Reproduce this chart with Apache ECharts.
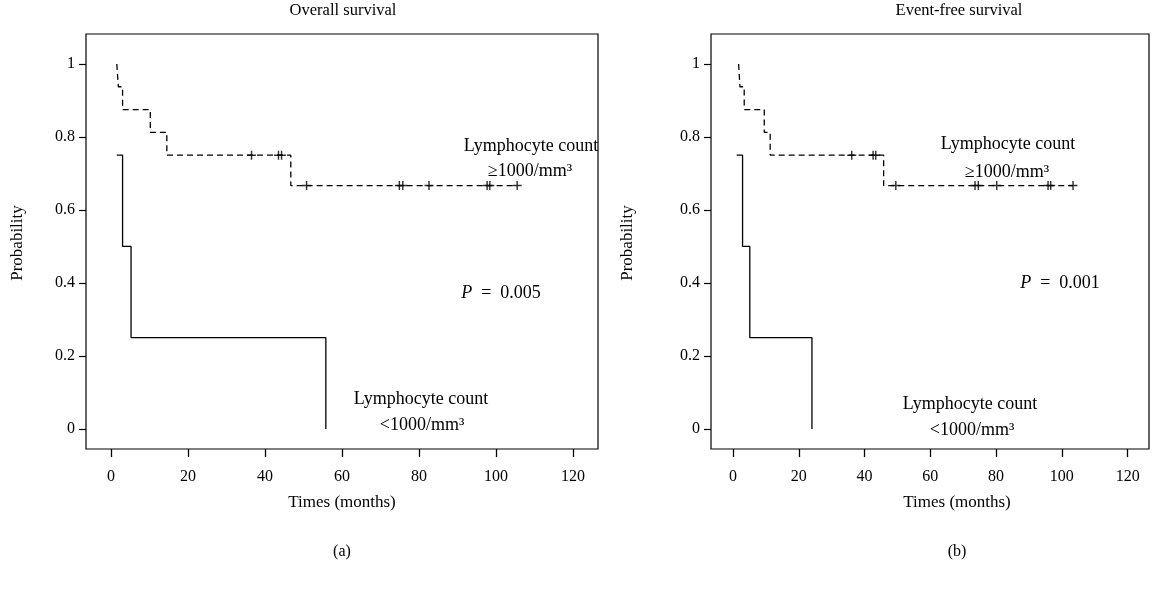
<!DOCTYPE html>
<html><head><meta charset="utf-8">
<script src="https://cdn.jsdelivr.net/npm/echarts@6/dist/echarts.min.js"></script>
<style>html,body{margin:0;padding:0;background:#fff}#c{width:1152px;height:596px}</style>
</head><body><div id="c"></div>
<script>
// ---- data (months, survival probability) ----
const xTickValues = [0, 20, 40, 60, 80, 100, 120];
const yTickValues = [0, 0.2, 0.4, 0.6, 0.8, 1];
const panelTitles = ['Overall survival', 'Event-free survival'];
const panelTags = ['(a)', '(b)'];
const xAxisTitle = 'Times (months)';
const yAxisTitle = 'Probability';
const pValues = ['0.005', '0.001'];

// Overall survival
const osHighTimes = [1.5, 1.9, 3.0, 10.2, 14.5, 46.7, 105.5];
const osHighSurv  = [1, 0.9375, 0.875, 0.8125, 0.75, 0.6667, 0.6667];
const osHighCensorTimes = [36.5, 43.5, 44.3, 50.8, 74.9, 75.8, 82.6, 97.7, 98.4, 105.5];
const osHighCensorSurv  = [0.75, 0.75, 0.75, 0.6667, 0.6667, 0.6667, 0.6667, 0.6667, 0.6667, 0.6667];
const osLowTimes = [1.5, 3.0, 5.2, 55.8];
const osLowSurv  = [0.75, 0.5, 0.25, 0];

// Event-free survival
const efsHighTimes = [1.7, 2.1, 3.4, 9.5, 11.3, 45.8, 103.4];
const efsHighSurv  = [1, 0.9375, 0.875, 0.8125, 0.75, 0.6667, 0.6667];
const efsHighCensorTimes = [36.1, 42.6, 43.4, 49.5, 73.6, 74.6, 80.2, 95.8, 96.6, 103.4];
const efsHighCensorSurv  = [0.75, 0.75, 0.75, 0.6667, 0.6667, 0.6667, 0.6667, 0.6667, 0.6667, 0.6667];
const efsLowTimes = [1.1, 2.9, 5.1, 24.0];
const efsLowSurv  = [0.75, 0.5, 0.25, 0];

const zip = (a, b) => a.map((v, i) => [v, b[i]]);
const FONT = '"Liberation Serif", "DejaVu Serif", serif';
const PLUS = 'path://M4.2,0H5.8V4.2H10V5.8H5.8V10H4.2V5.8H0V4.2H4.2Z';

// plot boxes and the value range each box spans (box extends past the ticks)
const boxes = [
  {left: 86, top: 34, width: 512, height: 415},
  {left: 711, top: 34, width: 438, height: 415}
];
const xRanges = [[-6.5, 126.5], [-6.7, 126.5]];
const yRange = [-0.055, 1.082];

const grids = [], xAxes = [], yAxes = [];
boxes.forEach((b, k) => {
  grids.push(Object.assign({show: true, borderColor: '#000', borderWidth: 1.2, backgroundColor: 'transparent'}, b));
  xAxes.push({
    gridIndex: k, type: 'value', min: xRanges[k][0], max: xRanges[k][1],
    axisLine: {show: false, onZero: false},
    axisTick: {show: true, inside: false, length: 8, customValues: xTickValues, lineStyle: {color: '#000', width: 1.3}},
    axisLabel: {margin: 20, color: '#000', fontFamily: FONT, fontSize: 16, customValues: xTickValues},
    splitLine: {show: false}
  });
  yAxes.push({
    gridIndex: k, type: 'value', min: yRange[0], max: yRange[1],
    axisLine: {show: false, onZero: false},
    axisTick: {show: true, inside: false, length: 7, customValues: yTickValues, lineStyle: {color: '#000', width: 1.2}},
    axisLabel: {margin: 11, color: '#000', fontFamily: FONT, fontSize: 16, customValues: yTickValues},
    splitLine: {show: false}
  });
});

function km(name, idx, times, surv, dashed) {
  return {
    name, type: 'line', xAxisIndex: idx, yAxisIndex: idx, step: 'end',
    data: zip(times, surv), showSymbol: false, symbol: 'none',
    lineStyle: {color: '#000', width: 1.3, type: dashed ? [6, 4] : 'solid'},
    silent: true
  };
}
function censor(name, idx, times, surv) {
  return {
    name, type: 'scatter', xAxisIndex: idx, yAxisIndex: idx,
    data: zip(times, surv), symbol: PLUS, symbolSize: 9,
    itemStyle: {color: '#000'}, silent: true
  };
}

const series = [
  km('OS ≥1000', 0, osHighTimes, osHighSurv, true),
  censor('OS ≥1000 censored', 0, osHighCensorTimes, osHighCensorSurv),
  km('OS <1000', 0, osLowTimes, osLowSurv, false),
  km('EFS ≥1000', 1, efsHighTimes, efsHighSurv, true),
  censor('EFS ≥1000 censored', 1, efsHighCensorTimes, efsHighCensorSurv),
  km('EFS <1000', 1, efsLowTimes, efsLowSurv, false)
];

function txt(text, x, y, size, extra, rot) {
  return {
    type: 'text', x, y, rotation: rot || 0, silent: true,
    style: Object.assign({text, fill: '#000', font: size + 'px ' + FONT, align: 'center', verticalAlign: 'middle'}, extra || {})
  };
}
const pStyle = (v) => ({text: '{i|P}\u2002=\u2002' + v, rich: {i: {fontStyle: 'italic', fontFamily: FONT, fontSize: 18}}});

const graphic = [
  txt(panelTitles[0], 343, 11, 16.5),
  txt(panelTitles[1], 959, 11, 16.5),
  txt(yAxisTitle, 18, 243, 17, null, Math.PI / 2),
  txt(yAxisTitle, 628, 243, 17, null, Math.PI / 2),
  txt(xAxisTitle, 342, 503, 17),
  txt(xAxisTitle, 957, 503, 17),
  txt('Lymphocyte count', 531, 146, 18),
  txt('≥1000/mm³', 530, 171, 18),
  txt('', 501, 293, 18, pStyle(pValues[0])),
  txt('Lymphocyte count', 421, 399, 18),
  txt('<1000/mm³', 422, 425, 18),
  txt('Lymphocyte count', 1008, 144, 18),
  txt('≥1000/mm³', 1007, 172, 18),
  txt('', 1060, 283, 18, pStyle(pValues[1])),
  txt('Lymphocyte count', 970, 404, 18),
  txt('<1000/mm³', 972, 430, 18),
  txt(panelTags[0], 342, 552, 16),
  txt(panelTags[1], 957, 552, 16)
];

const chart = echarts.init(document.getElementById('c'), null, {renderer: 'canvas'});
chart.setOption({
  animation: false,
  backgroundColor: '#fff',
  grid: grids, xAxis: xAxes, yAxis: yAxes,
  series, graphic
});
</script></body></html>
